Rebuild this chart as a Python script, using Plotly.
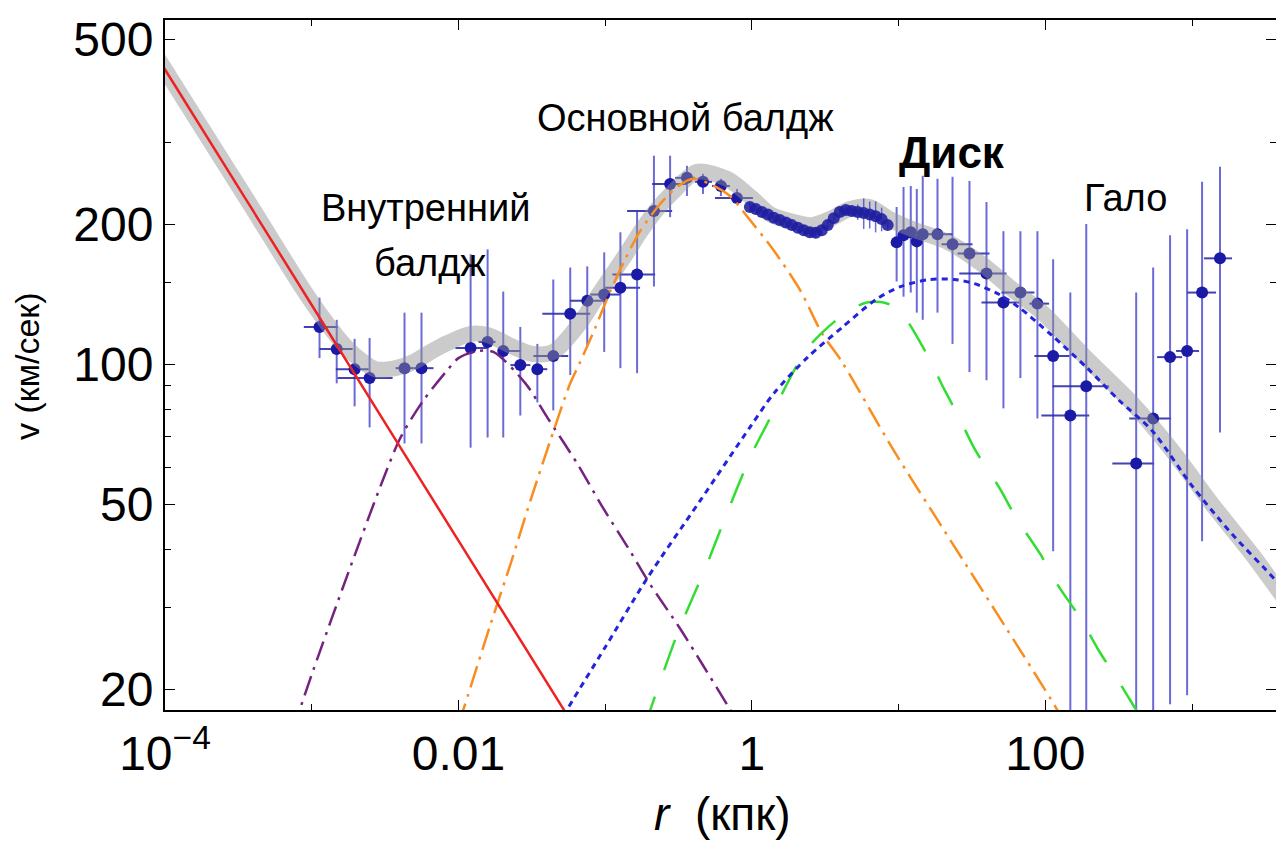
import plotly.graph_objects as go

# ---- observed rotation curve: radius (kpc) with bin limits, velocity (km/s) with error limits ----
r_obs = [0.00113, 0.00148, 0.00196, 0.00248, 0.00429, 0.0056, 0.0121, 0.0158, 0.0202, 0.0264,
         0.0345, 0.0443, 0.0578, 0.0755, 0.0985, 0.127, 0.165, 0.215, 0.277, 0.361,
         0.464, 0.615, 0.791, 9.69, 10.8, 12.1, 13.3, 14.6, 18.4, 23.3,
         30.4, 39.7, 51.8, 67.6, 88.3, 113, 148, 190, 416, 543,
         708, 925, 1170, 1550]
r_obs_lo = [0.000883, 0.00113, 0.00146, 0.0015, 0.00373, 0.00494, 0.00954, 0.0137, 0.0187, 0.0226,
            0.0319, 0.0324, 0.0373, 0.0578, 0.0791, 0.100, 0.112, 0.141, 0.209, 0.300,
            0.409, 0.535, 0.560, 9.69, 10.8, 12.1, 13.3, 14.6, 14.6, 19.6,
            25.2, 25.9, 36.7, 50.2, 77.8, 84.2, 93.9, 112, 286, 373,
            578, 778, 925, 1207]
r_obs_hi = [0.0015, 0.0019, 0.00244, 0.00356, 0.00494, 0.00676, 0.0160, 0.0179, 0.0264, 0.0309,
            0.0403, 0.0560, 0.0791, 0.100, 0.127, 0.173, 0.219, 0.286, 0.361, 0.409,
            0.535, 0.708, 1.016, 9.69, 10.8, 12.1, 13.3, 14.6, 23.3, 31.9,
            41.6, 54.3, 66.5, 84.2, 106, 146, 199, 272, 551, 719,
            855, 1116, 1457, 1871]
v_obs = [120.2, 107.8, 97.5, 93.3, 98.0, 98.0, 108.3, 111.6, 106.7, 99.5,
         97.5, 104.1, 128.3, 136.9, 141.1, 146.0, 155.8, 213.3, 244.0, 251.5,
         246.6, 241.6, 227.6, 182.7, 189.2, 192.1, 183.6, 190.2, 190.2, 181.0,
         173.0, 156.6, 135.6, 142.5, 134.9, 104.1, 77.5, 89.6, 61.1, 76.4,
         103.5, 106.7, 142.5, 168.8]
v_obs_hi = [139.0, 124.5, 113.3, 113.8, 129.0, 129.0, 172.2, 176.5, 143.2, 120.2,
            110.5, 152.0, 161.3, 162.2, 173.9, 192.1, 213.3, 280.6, 280.6, 267.0,
            256.5, 250.3, 238.0, 217.7, 240.4, 241.6, 238.0, 254.1, 250.3, 252.8,
            247.7, 223.1, 193.1, 193.1, 193.1, 168.0, 142.5, 200.0, 142.5, 161.3,
            189.2, 195.0, 246.6, 265.7]
v_obs_lo = [103.0, 90.9, 81.1, 73.1, 67.5, 67.5, 66.1, 69.5, 69.5, 77.5,
            82.7, 79.5, 94.7, 109.9, 106.2, 98.0, 95.6, 146.8, 207.0, 229.9,
            232.2, 229.9, 220.9, 150.5, 139.6, 142.5, 129.0, 124.5, 129.0, 110.5,
            96.1, 92.3, 80.3, 93.3, 76.4, 39.6, 10, 10, 10, 10,
            18.55, 19.4, 41.6, 71.3]

# densely sampled inner-disk measurements
r_dense = [0.969, 1.065, 1.17, 1.285, 1.411, 1.55, 1.703, 1.871, 2.056, 2.259, 2.481, 2.725,
           2.994, 3.289, 3.613, 3.969, 4.36, 4.79, 5.26, 5.78, 6.35, 6.97, 7.66, 8.42]
v_dense = [217.7, 215.4, 212.3, 209.7, 206.5, 204.0, 201.5, 199.0, 196.5, 194.1, 192.1, 191.7,
           194.1, 199.0, 206.0, 212.3, 214.4, 213.3, 212.3, 211.2, 209.7, 208.0, 205.0, 199.0]
v_dense_up = [5, 5, 5, 5, 5, 5, 5, 5, 5, 5, 5, 5, 5, 5, 5, 5, 5, 5, 8, 16, 14, 16, 12, 5]
v_dense_dn = [5, 5, 5, 5, 5, 5, 5, 5, 5, 5, 5, 5, 5, 5, 5, 5, 5, 5, 8, 16, 14, 16, 12, 5]

# ---- model components ----
r_bh = [9.0e-5, 1.0e-4, 1.0e-3, 1.0e-2, 0.1]
v_bh = [453, 430, 134, 41.7, 13.0]

r_inner = [7.43e-4, 8.16e-4, 1.032e-3, 1.758e-3, 3.04e-3, 4.03e-3, 5.78e-3, 8.42e-3, 1.0e-2,
           1.346e-2, 1.730e-2, 2.86e-2, 4.03e-2, 6.45e-2, 9.69e-2, 0.1479, 0.2024, 0.3236, 0.464,
           0.708, 0.829]
v_inner = [16.3, 17.8, 22.1, 35.3, 56.1, 69.5, 83.6, 97.1, 103.0,
           106.7, 106.2, 90.9, 76.8, 61.1, 49.0, 39.6, 33.6, 27.0, 22.5,
           18.1, 16.6]

r_main = [1.0e-2, 1.064e-2, 1.651e-2, 2.26e-2, 3.09e-2, 4.23e-2, 5.78e-2, 6.76e-2, 8.55e-2, 0.1081,
          0.1368, 0.173, 0.2367, 0.309, 0.397, 0.518, 0.708, 0.925, 1.390, 2.121,
          2.994, 4.16, 9.25, 20.6, 54.3, 115.1, 128.5]
v_main = [16.8, 17.8, 27.5, 37.1, 50.8, 68.5, 90.9, 101.0, 119.6, 143.2,
          168.0, 193.1, 220.9, 240.4, 250.3, 244.0, 229.9, 208.0, 176.5, 144.6,
          116.7, 100.5, 65.2, 43.7, 27.0, 18.5, 17.4]

r_disk = [0.184, 0.2024, 0.309, 0.494, 0.605, 0.969, 1.305, 1.651, 2.294, 2.994,
          4.29, 5.965, 8.03, 10.16, 15.03, 20.6, 26.0, 33.4, 48.6, 63.5,
          92.5, 120.7, 175.8, 229.5, 334, 436, 494]
v_disk = [16.6, 18.0, 26.2, 37.1, 43.7, 62.9, 75.6, 87.9, 106.2, 116.7,
          128.3, 135.5, 135.5, 130.2, 107.2, 87.9, 76.4, 65.2, 54.2, 46.6,
          39.0, 33.6, 28.2, 24.3, 20.2, 17.6, 16.6]

r_halo = [4.79e-2, 5.35e-2, 0.1, 0.1931, 0.443, 0.969, 1.411, 2.404,
          4.16, 7.08, 10.32, 16.25, 24.0, 32.9, 48.6, 66.5, 111.6, 190.1,
          318.7, 534, 1000, 1871, 3670, 4571]
v_halo = [16.7, 17.8, 24.6, 34.6, 50.8, 73.1, 86.5, 103.5,
          120.2, 138.0, 146.8, 152.0, 152.0, 148.9, 141.1, 132.2, 115.0, 98.5,
          83.5, 71.9, 54.7, 43.1, 34.4, 31.5]

r_total = [9.0e-5, 1.0e-4, 1.76e-4, 3.85e-4, 8.41e-4, 1.15e-3, 1.58e-3, 1.99e-3, 2.72e-3, 3.73e-3,
           4.94e-3, 6.45e-3, 8.42e-3, 1.21e-2, 1.58e-2, 2.37e-2, 3.24e-2, 4.43e-2, 6.76e-2, 8.55e-2,
           0.108, 0.137, 0.173, 0.226, 0.290, 0.423, 0.676, 1.016, 1.326, 1.813,
           2.559, 3.394, 4.64, 6.35, 8.69, 12.45, 21.2, 35.6, 59.7, 95.4,
           190, 391, 731, 1368, 2559, 3670, 4571]
v_total = [453, 430, 324, 219, 147.5, 127.7, 112.1, 104.1, 97.5, 98.0,
           101.0, 106.2, 111.0, 116.1, 115.5, 108.8, 105.1, 106.2, 122.7, 137.6,
           153.5, 171.3, 192.1, 215.4, 234.5, 259.1, 250.3, 226.5, 210.1, 203.0,
           199.0, 205.0, 215.4, 217.7, 205.0, 195.0, 183.6, 165.5, 144.6, 129.0,
           103.0, 82.3, 65.2, 50.0, 39.0, 33.4, 30.4]

# ---- axis ticks ----
x_major = [1e-4, 1e-2, 1, 100]
x_major_text = ["10<sup>\u22124</sup>", "0.01", "1", "100"]
x_minor = [1e-3, 0.1, 10, 1000]
y_major = [20, 50, 100, 200, 500]
y_minor = [30, 40, 60, 70, 80, 90, 150, 300]

FONT = "Liberation Sans, Arial, sans-serif"
W, H = 1276, 843
ML, MR, MT, MB = 165, 0, 20, 133
PW, PH = W - ML - MR, H - MT - MB


def px(x, y):
    """pixel position -> paper coordinates"""
    return (x - ML) / PW, (H - MB - y) / PH


fig = go.Figure()

# measured points with error bars
fig.add_trace(go.Scatter(
    x=r_obs, y=v_obs, mode="markers",
    marker=dict(size=12, color="#1a1aa6", line=dict(width=0)),
    error_y=dict(type="data", symmetric=False,
                 array=[h - v for h, v in zip(v_obs_hi, v_obs)],
                 arrayminus=[v - l for v, l in zip(v_obs, v_obs_lo)],
                 color="rgba(70,70,205,0.8)", thickness=2, width=0),
    error_x=dict(type="data", symmetric=False,
                 array=[h - r for h, r in zip(r_obs_hi, r_obs)],
                 arrayminus=[r - l for r, l in zip(r_obs, r_obs_lo)],
                 color="rgba(45,45,170,0.9)", thickness=2, width=0),
    hoverinfo="skip", showlegend=False))

# total model curve: broad translucent band
fig.add_trace(go.Scatter(
    x=r_total, y=v_total, mode="lines",
    line=dict(color="rgba(145,145,145,0.47)", width=16, shape="spline", smoothing=0.8),
    hoverinfo="skip", showlegend=False))

# dense inner-disk sampling drawn over the band
fig.add_trace(go.Scatter(
    x=r_dense, y=v_dense, mode="markers",
    marker=dict(size=12, color="rgba(30,30,160,0.88)", line=dict(width=0)),
    error_y=dict(type="data", symmetric=False, array=v_dense_up, arrayminus=v_dense_dn,
                 color="rgba(70,70,205,0.8)", thickness=1.5, width=0),
    hoverinfo="skip", showlegend=False))

# components
components = [
    (r_inner, v_inner, "#74237f", "20px,7px,3px,7px", 2.5),
    (r_main, v_main, "#f98d1f", "22px,7px,3px,7px", 2.5),
    (r_disk, v_disk, "#33dd33", "32px,28px", 2.5),
    (r_halo, v_halo, "#2424dc", "6px,5px", 3),
    (r_bh, v_bh, "#ee2222", "solid", 2.5),
]
for rr, vv, col, dash, w in components:
    fig.add_trace(go.Scatter(
        x=rr, y=vv, mode="lines",
        line=dict(color=col, width=w, dash=dash, shape="spline", smoothing=0.8),
        hoverinfo="skip", showlegend=False))

# empty trace so the right-hand tick axis is drawn
fig.add_trace(go.Scatter(x=[], y=[], yaxis="y2", showlegend=False, hoverinfo="skip"))

y_range = [1.256, 2.740]

fig.update_layout(
    width=W, height=H,
    margin=dict(l=ML, r=MR, t=MT, b=MB, pad=0),
    paper_bgcolor="white", plot_bgcolor="white",
    font=dict(family=FONT, color="black"),
    showlegend=False,
    xaxis=dict(
        type="log", range=[-4, 3.572],
        showline=True, linecolor="black", linewidth=2, mirror="ticks",
        ticks="inside", ticklen=10, tickwidth=1, tickcolor="black",
        tickmode="array", tickvals=x_major, ticktext=x_major_text,
        tickfont=dict(size=48, family=FONT, color="black"),
        minor=dict(tickmode="array", tickvals=x_minor, ticks="inside", ticklen=6,
                   tickwidth=1, tickcolor="black", showgrid=False),
        showgrid=False, zeroline=False,
    ),
    yaxis=dict(
        type="log", range=y_range,
        showline=True, linecolor="black", linewidth=2, mirror=False,
        ticks="inside", ticklen=10, tickwidth=1, tickcolor="black",
        tickmode="array", tickvals=y_major, ticktext=[str(v) for v in y_major],
        tickfont=dict(size=48, family=FONT, color="black"),
        minor=dict(tickmode="array", tickvals=y_minor, ticks="inside", ticklen=6,
                   tickwidth=1, tickcolor="black", showgrid=False),
        showgrid=False, zeroline=False,
    ),
    yaxis2=dict(
        type="log", range=y_range, overlaying="y", side="right",
        showline=False, showticklabels=False,
        ticks="inside", ticklen=10, tickwidth=1, tickcolor="black",
        tickmode="array", tickvals=y_major,
        minor=dict(tickmode="array", tickvals=y_minor, ticks="inside", ticklen=6,
                   tickwidth=1, tickcolor="black", showgrid=False),
        showgrid=False, zeroline=False,
    ),
)

labels = [
    ("Внутренний", 425, 208, 38),
    ("балдж", 430, 263, 38),
    ("Основной балдж", 685, 118, 38),
    ("<b>Диск</b>", 952, 152, 44),
    ("Гало", 1125, 198, 38),
]
for txt, x, y, s in labels:
    xp, yp = px(x, y)
    fig.add_annotation(x=xp, y=yp, xref="paper", yref="paper", text=txt, showarrow=False,
                       xanchor="center", yanchor="middle",
                       font=dict(size=s, family=FONT, color="black"))

# axis titles
xp, yp = px(722, 814)
fig.add_annotation(x=xp, y=yp, xref="paper", yref="paper", text="<i>r</i>\u00a0\u00a0(кпк)",
                   showarrow=False, xanchor="center", yanchor="middle",
                   font=dict(size=46, family=FONT, color="black"))
xp, yp = px(27, 366)
fig.add_annotation(x=xp, y=yp, xref="paper", yref="paper", text="v (км/сек)", textangle=-90,
                   showarrow=False, xanchor="center", yanchor="middle",
                   font=dict(size=34, family=FONT, color="black"))

fig.write_html("out.html")
